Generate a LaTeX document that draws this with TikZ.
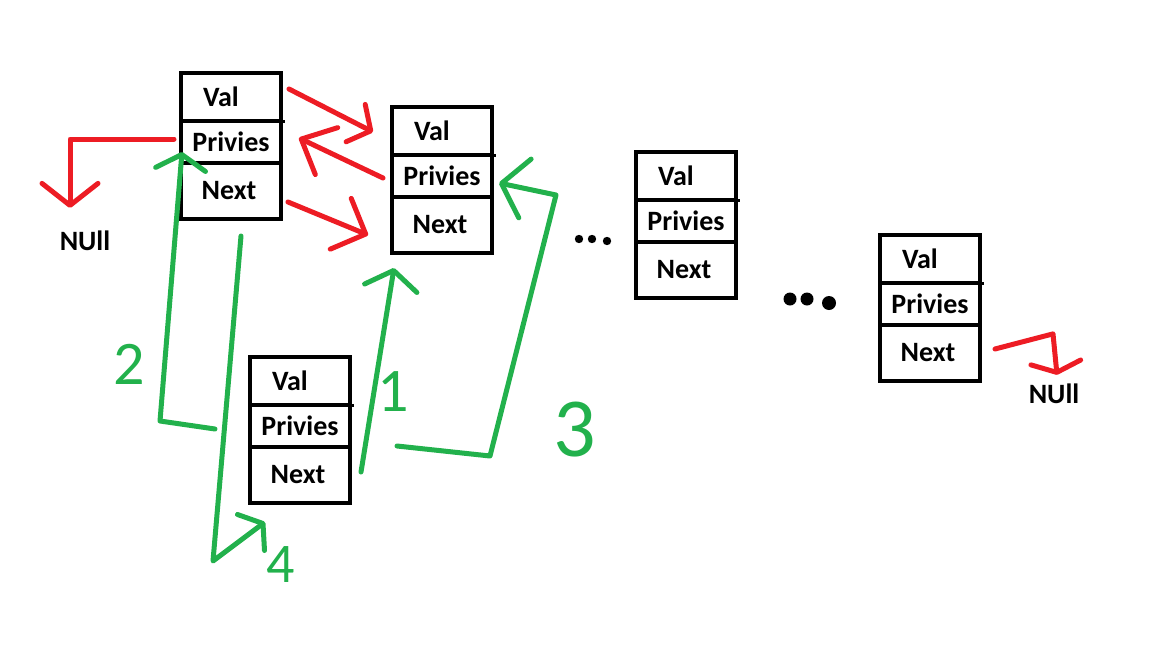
\documentclass[tikz,border=0pt]{standalone}
\usepackage{fontspec}
\setmainfont{Carlito}
\usetikzlibrary{arrows.meta,positioning,calc}
\definecolor{linkColor}{HTML}{ED1C24}
\definecolor{insColor}{HTML}{22B14C}

\begin{document}
\begin{tikzpicture}[x=1pt,y=-1pt,
		cell/.style={draw, line width=4.5pt, minimum width=100pt, inner sep=0, outer sep=0,
			anchor=north west, font=\bfseries\fontsize{28}{28}\selectfont},
		valcell/.style={cell, minimum height=48pt, execute at end node=\hspace*{20pt}},
		prevcell/.style={cell, minimum height=42pt},
		nextcell/.style={cell, minimum height=56pt, execute at end node=\hspace*{4pt}},
		nulltext/.style={inner sep=0, font=\bfseries\fontsize{28}{28}\selectfont},
		numlabel/.style={inner sep=0, text=insColor, font=\fontsize{#1}{#1}\selectfont},
		link/.style={draw=linkColor, line width=5pt, line cap=round, line join=round},
		ins/.style={draw=insColor, line width=5pt, line cap=round, line join=round},
		barb/.style args={#1 and #2}{-{Straight Barb[round,length=#1,width=#2]}}]
	\useasboundingbox (0,0) rectangle (1152,648);
	
	% the list
	\node[valcell] (a-val) at (181,73) {Val};
	\node[prevcell, below=0pt of a-val] (a-prev) {Privies};
	\node[nextcell, below=0pt of a-prev] (a-next) {Next};
	
	\node[valcell] (b-val) at (392,107) {Val};
	\node[prevcell, below=0pt of b-val] (b-prev) {Privies};
	\node[nextcell, below=0pt of b-prev] (b-next) {Next};
	
	\node[valcell] (c-val) at (636,152) {Val};
	\node[prevcell, below=0pt of c-val] (c-prev) {Privies};
	\node[nextcell, below=0pt of c-prev] (c-next) {Next};
	
	\node[valcell] (d-val) at (880,235) {Val};
	\node[prevcell, below=0pt of d-val] (d-prev) {Privies};
	\node[nextcell, below=0pt of d-prev] (d-next) {Next};
	
	% new node
	\node[valcell] (e-val) at (250,357) {Val};
	\node[prevcell, below=0pt of e-val] (e-prev) {Privies};
	\node[nextcell, below=0pt of e-prev] (e-next) {Next};
	
	\foreach \bx in {a,b,c,d,e}
		\draw[line width=3pt] (\bx-val.south east) -- ++(4,0);
	
	\node[nulltext] (null-a) at (85,241) {NUll};
	\node[nulltext] (null-d) at (1054,394) {NUll};
	
	\foreach \x/\y in {579/239, 592/239, 607/241}
		\fill (\x,\y) circle (4.2pt);
	\foreach \x/\y/\r in {790/299/6.5, 807/299/6.5, 829/303/7}
		\fill (\x,\y) circle (\r pt);
	
	% old links
	\draw[link, barb=17pt and 42pt] ($(a-val.east)+(8,-8)$) -- ($(b-val.west)+(-19,1)$);
	\draw[link, barb=28pt and 52pt] ($(b-prev.west)+(-9,2)$) -- ($(a-prev.east)+(18,-4)$);
	\draw[link, barb=27pt and 55pt] ($(a-next.east)+(7,11)$) -- ($(b-next.west)+(-24,10)$);
	\draw[link, barb=22pt and 56pt] ($(a-prev.west)+(-7,-3)$) -| ($(null-a.north)+(-15,-23)$);
	\draw[link, barb=10pt and 50pt] ($(d-next.east)+(15,-4)$) -- ($(null-d.north)+(-1,-50)$)
		-- ($(null-d.north)+(3,-9)$);
	
	% insertion
	\draw[ins, barb=15pt and 50pt] ($(e-prev.west)+(-35,3)$) -- ($(e-prev.west)+(-90,-5)$)
		-- ($(a-prev.south west)+(1,-11)$);
	\draw[ins, barb=15pt and 45pt] ($(a-next.south)+(10,17)$) -- ($(e-next.south west)+(-37,58)$)
		-- ($(e-next.south west)+(15,19)$);
	\draw[ins, barb=18pt and 53pt] ($(e-next.east)+(11,-3)$) -- ($(b-next.south west)+(2,15)$);
	\draw[ins, barb=24pt and 60pt] ($(e-prev.east)+(47,20)$) -- ($(e-prev.east)+(140,30)$)
		-- ($(b-prev.east)+(64,19)$) -- ($(b-prev.east)+(7,7)$);
	
	\node[numlabel=62] (step-two) at (129,364) {2};
	\node[numlabel=56] (step-four) at (281,565) {4};
	\node[numlabel=62] (step-one) at (393,392) {1};
	\node[numlabel=84] (step-three) at (575,430) {3};
\end{tikzpicture}
\end{document}
